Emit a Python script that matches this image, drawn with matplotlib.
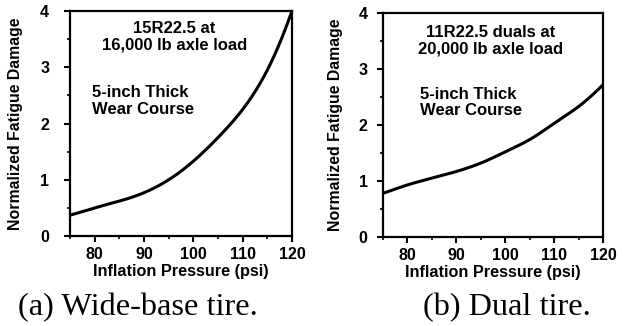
import matplotlib
matplotlib.use("Agg")
import matplotlib.pyplot as plt
import numpy as np
from matplotlib.ticker import MultipleLocator

pressure = [75, 80, 85, 90, 95, 100, 105, 110, 115, 120]
damage_wide = [0.37, 0.50, 0.62, 0.77, 1.00, 1.33, 1.75, 2.25, 2.95, 4.00]
damage_dual = [0.78, 0.93, 1.05, 1.17, 1.32, 1.52, 1.74, 2.03, 2.33, 2.72]

xticks = [80, 90, 100, 110, 120]
yticks = [0, 1, 2, 3, 4]
ylabel = "Normalized Fatigue Damage"
xlabel = "Inflation Pressure (psi)"

panels = [
    dict(pos=[0.1116, 0.276, 0.354, 0.690], y=damage_wide, pad=11, ylc=-0.21,
         note1="15R22.5 at\n16,000 lb axle load", n1=(0.47, 0.955), n2x=0.10,
         caption="(a) Wide-base tire.", capx=0.22),
    dict(pos=[0.6108, 0.273, 0.351, 0.687], y=damage_dual, pad=7, ylc=-0.18,
         note1="11R22.5 duals at\n20,000 lb axle load", n1=(0.49, 0.945), n2x=0.17,
         caption="(b) Dual tire.", capx=0.809),
]

plt.rcParams['font.family'] = ['Liberation Sans', 'DejaVu Sans']

fig = plt.figure(figsize=(6.27, 3.26), dpi=100)

def smooth(xs, ys, n=200):
    xs = np.asarray(xs, float); ys = np.asarray(ys, float)
    xn = np.linspace(xs[0], xs[-1], n)
    ly = np.log(ys)
    h = np.diff(xs)
    nseg = len(xs)
    A = np.zeros((nseg, nseg)); b = np.zeros(nseg)
    A[0, 0] = 1; A[-1, -1] = 1
    for i in range(1, nseg - 1):
        A[i, i - 1] = h[i - 1]; A[i, i] = 2 * (h[i - 1] + h[i]); A[i, i + 1] = h[i]
        b[i] = 3 * ((ly[i + 1] - ly[i]) / h[i] - (ly[i] - ly[i - 1]) / h[i - 1])
    c = np.linalg.solve(A, b)
    out = np.empty_like(xn)
    for k, x in enumerate(xn):
        i = min(np.searchsorted(xs, x, side='right') - 1, nseg - 2)
        dx = x - xs[i]
        bb = (ly[i + 1] - ly[i]) / h[i] - h[i] * (c[i + 1] + 2 * c[i]) / 3
        d = (c[i + 1] - c[i]) / (3 * h[i])
        out[k] = ly[i] + bb * dx + c[i] * dx ** 2 + d * dx ** 3
    return xn, np.exp(out)

for p in panels:
    ax = fig.add_axes(p['pos'])
    xs, ys = smooth(pressure, p['y'])
    ax.plot(xs, ys, color='black', lw=2.2, solid_capstyle='butt', clip_on=False)
    ax.set_xlim(75, 120)
    ax.set_ylim(0, 4)
    ax.set_xticks(xticks)
    ax.set_yticks(yticks)
    ax.xaxis.set_minor_locator(MultipleLocator(5))
    ax.yaxis.set_minor_locator(MultipleLocator(0.5))
    ax.tick_params(which='major', direction='out', length=4, width=1.5, labelsize=11.5)
    ax.tick_params(axis='x', which='major', pad=4)
    ax.tick_params(axis='y', which='major', pad=p['pad'])
    ax.tick_params(which='minor', direction='out', length=2.5, width=1.2)
    for lab in ax.get_xticklabels() + ax.get_yticklabels():
        lab.set_fontweight('bold')
    for s in ax.spines.values():
        s.set_linewidth(1.6)
    ax.set_xlabel(xlabel, fontsize=11.7, fontweight='bold')
    ax.set_ylabel(ylabel, fontsize=11.4, fontweight='bold')
    ax.xaxis.set_label_coords(0.5, -0.125)
    ax.yaxis.set_label_coords(p['ylc'], 0.5)
    ax.text(p['n1'][0], p['n1'][1], p['note1'], transform=ax.transAxes, ha='center', va='top',
            fontsize=12, fontweight='bold', linespacing=1.1)
    ax.text(p['n2x'], 0.67, "5-inch Thick\nWear Course", transform=ax.transAxes, ha='left', va='top',
            fontsize=12, fontweight='bold', linespacing=1.1)
    fig.text(p['capx'], 0.058, p['caption'], ha='center', va='center',
             fontsize=23.3, family='Liberation Serif')

fig.savefig("out.png", dpi=100)
